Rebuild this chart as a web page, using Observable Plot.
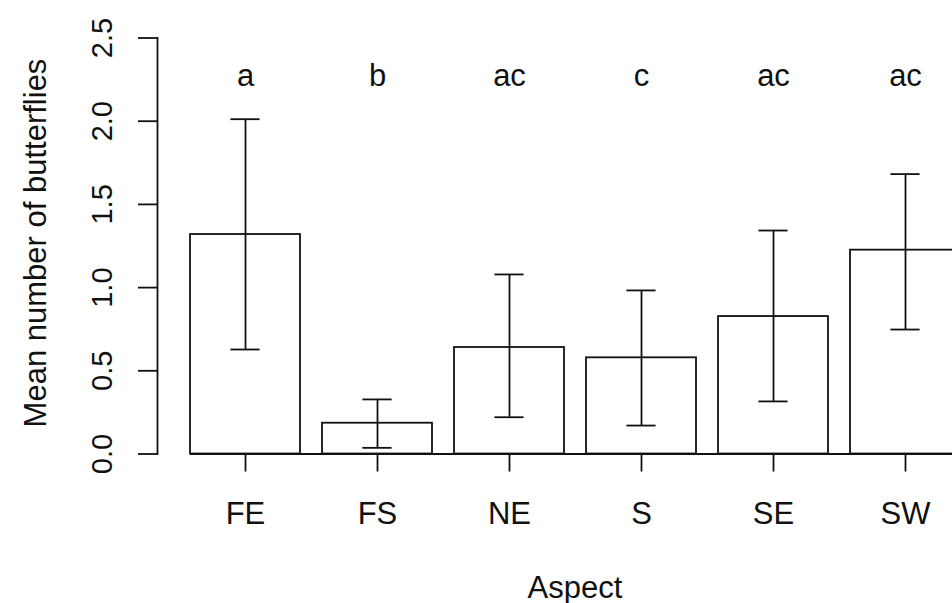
<!DOCTYPE html>
<html>
<head>
<meta charset="utf-8">
<script src="https://cdn.jsdelivr.net/npm/d3@7"></script>
<script src="https://cdn.jsdelivr.net/npm/@observablehq/plot@0.6"></script>
<style>
  html, body { margin: 0; padding: 0; background: #fff; overflow: hidden; }
</style>
</head>
<body>
<div id="chart"></div>
<script>
const categories = ["FE", "FS", "NE", "S", "SE", "SW"];
const means      = [1.319, 0.185, 0.640, 0.578, 0.826, 1.225];
const upper      = [2.012, 0.328, 1.079, 0.983, 1.343, 1.682];
const lower      = [0.628, 0.037, 0.221, 0.171, 0.316, 0.748];
const letters    = ["a", "b", "ac", "c", "ac", "ac"];
const letterY    = 2.27;
const yTicks     = [0, 0.5, 1, 1.5, 2, 2.5];
const yTitle     = "Mean number of butterflies";
const xTitle     = "Aspect";

const data = categories.map((c, i) => ({cat: c, mean: means[i], hi: upper[i], lo: lower[i], letter: letters[i]}));

const ink = "#111";
const font = 31;

const chart = Plot.plot({
  width: 952,
  height: 603,
  marginLeft: 157,
  marginRight: 0,
  marginTop: 37.5,
  marginBottom: 149.5,
  style: {fontFamily: "'Liberation Sans', Arial, sans-serif", background: "#fff", color: ink, overflow: "hidden"},
  x: {type: "band", domain: categories, range: [178, 971.2], paddingInner: 1 / 6, paddingOuter: 1 / 12},
  y: {domain: [0, 2.5]},
  marks: [
    Plot.barY(data, {x: "cat", y: "mean", fill: "#fff", stroke: ink, strokeWidth: 1.8}),
    Plot.ruleY([0], {x1: () => categories[0], x2: () => categories[categories.length - 1], stroke: ink, strokeWidth: 1.8}),
    Plot.ruleX(data, {x: "cat", y1: "lo", y2: "hi", stroke: ink, strokeWidth: 1.8}),
    Plot.tickY(data, {x: "cat", y: "hi", stroke: ink, strokeWidth: 1.8, insetLeft: 40.4, insetRight: 40.4}),
    Plot.tickY(data, {x: "cat", y: "lo", stroke: ink, strokeWidth: 1.8, insetLeft: 40.4, insetRight: 40.4}),
    Plot.frame({anchor: "left", stroke: ink, strokeWidth: 1.8}),
    Plot.axisY({ticks: yTicks, tickSize: 19, tickPadding: 0, tickFormat: () => "", label: null, stroke: ink, strokeWidth: 1.8}),
    Plot.axisX({tickSize: 18, tickPadding: 0, tickFormat: () => "", label: null, stroke: ink, strokeWidth: 1.8}),
    Plot.text(yTicks, {frameAnchor: "left", y: (d) => d, text: (d) => d.toFixed(1), rotate: -90, textAnchor: "middle", lineAnchor: "bottom", dx: -46, fontSize: 29, fill: ink}),
    Plot.text(categories, {x: (d) => d, y: () => 0, text: (d) => d, lineAnchor: "bottom", dy: 69.5, fontSize: font, fill: ink}),
    Plot.text(data, {x: "cat", y: () => letterY, text: "letter", lineAnchor: "middle", fontSize: font, fill: ink}),
    Plot.text([yTitle], {frameAnchor: "left", rotate: -90, textAnchor: "middle", lineAnchor: "bottom", dx: -112, dy: -3, fontSize: font, fill: ink}),
    Plot.text([xTitle], {frameAnchor: "bottom", lineAnchor: "bottom", dx: 20, dy: 143.5, fontSize: font, fill: ink})
  ]
});
document.getElementById("chart").appendChild(chart);
</script>
</body>
</html>
